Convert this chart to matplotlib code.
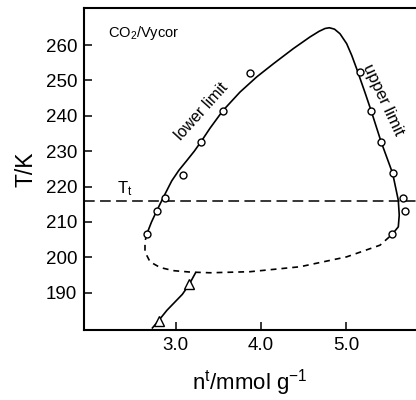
import matplotlib
matplotlib.use("Agg")
import matplotlib.pyplot as plt

plt.rcParams["font.family"] = ["Liberation Sans", "DejaVu Sans"]
plt.rcParams["mathtext.fontset"] = "custom"
plt.rcParams["mathtext.rm"] = "Liberation Sans"
plt.rcParams["mathtext.it"] = "Liberation Sans"

# ── Data ─────────────────────────────────────────────────────────────────────
# measured points, lower limit branch
lower_n = [2.663, 2.787, 2.874, 3.084, 3.302, 3.552, 3.871]
lower_T = [206.5, 213.1, 216.8, 223.3, 232.6, 241.4, 252.2]

# measured points, upper limit branch
upper_n = [5.161, 5.290, 5.404, 5.540, 5.664, 5.684, 5.536]
upper_T = [252.4, 241.3, 232.7, 223.7, 216.8, 213.2, 206.5]

# triangles (below the loop)
tri_n = [2.807, 3.161]
tri_T = [182.0, 192.3]

# solid hysteresis envelope, traced
loop_n = [2.663, 2.720, 2.780, 2.857, 2.956, 3.040, 3.131, 3.220, 3.302, 3.404,
          3.552, 3.754, 3.950, 4.144, 4.378, 4.573, 4.680, 4.750, 4.800, 4.860,
          4.924, 5.002, 5.061, 5.119, 5.216, 5.290, 5.404, 5.540, 5.606, 5.617,
          5.606, 5.556, 5.536]
loop_T = [206.5, 210.0, 213.1, 216.9, 221.6, 224.6, 227.3, 230.0, 232.8, 236.5,
          241.4, 246.7, 251.0, 254.7, 259.0, 262.3, 263.9, 264.7, 264.9, 264.5,
          263.2, 260.4, 257.1, 253.3, 246.6, 241.3, 232.7, 223.7, 216.1, 211.9,
          208.6, 207.1, 206.5]

# dashed closing branch, traced
close_n = [2.663, 2.643, 2.643, 2.702, 2.819, 2.974, 3.170, 3.404, 3.871, 4.456,
           5.002, 5.392, 5.536]
close_T = [206.5, 204.4, 201.5, 198.7, 197.1, 196.2, 195.8, 195.6, 195.9, 197.3,
           200.1, 203.4, 206.5]

# line through triangles
tri_line_n = [2.73, 2.80, 2.90, 2.98, 3.08, 3.16, 3.23]
tri_line_T = [180.0, 182.0, 185.0, 187.0, 189.5, 192.3, 195.4]

T_TRIPLE = 216.0

x_ticks = [3.0, 4.0, 5.0]
x_labels = ["3.0", "4.0", "5.0"]
y_ticks = [190, 200, 210, 220, 230, 240, 250, 260]

# ── Plot ─────────────────────────────────────────────────────────────────────
fig = plt.figure(figsize=(4.16, 4.0), dpi=100)
ax = fig.add_axes([0.202, 0.174, 0.798, 0.807])

ax.plot(loop_n, loop_T, color="black", lw=1.2, solid_joinstyle="round")
ax.plot(close_n, close_T, color="black", lw=1.2, dashes=(3.5, 3.0))
ax.plot(tri_line_n, tri_line_T, color="black", lw=1.2)
ax.axhline(T_TRIPLE, color="black", lw=1.1, dashes=(7, 3.5))

ax.plot(lower_n, lower_T, "o", ms=5, mfc="white", mec="black", mew=1.0)
ax.plot(upper_n, upper_T, "o", ms=5, mfc="white", mec="black", mew=1.0)
ax.plot(tri_n, tri_T, "^", ms=7.5, mfc="white", mec="black", mew=1.0)

ax.text(2.21, 263.3, "CO$_2$/Vycor", fontsize=10.5, va="center", ha="left")
ax.text(2.41, 219.3, "T$_\\mathrm{t}$", fontsize=12, va="center", ha="center")
ax.text(3.31, 241.3, "lower limit", fontsize=11.5, rotation=48,
        ha="center", va="center", rotation_mode="anchor")
ax.text(5.43, 244.4, "upper limit", fontsize=12, rotation=-65,
        ha="center", va="center", rotation_mode="anchor")

ax.set_xlim(1.93, 5.813)
ax.set_ylim(179.3, 270.6)
ax.set_xticks(x_ticks)
ax.set_xticklabels(x_labels)
ax.set_yticks(y_ticks)
ax.tick_params(direction="in", length=5.5, width=1.1, labelsize=13.5, pad=5)

for side in ("left", "bottom", "top"):
    ax.spines[side].set_linewidth(1.5)
ax.spines["right"].set_visible(False)

ax.set_xlabel("n$^\\mathrm{t}$/mmol g$^{-1}$", fontsize=16, labelpad=9)
ax.set_ylabel("T/K", fontsize=16.5, labelpad=6)

fig.savefig("out.png", dpi=100)
